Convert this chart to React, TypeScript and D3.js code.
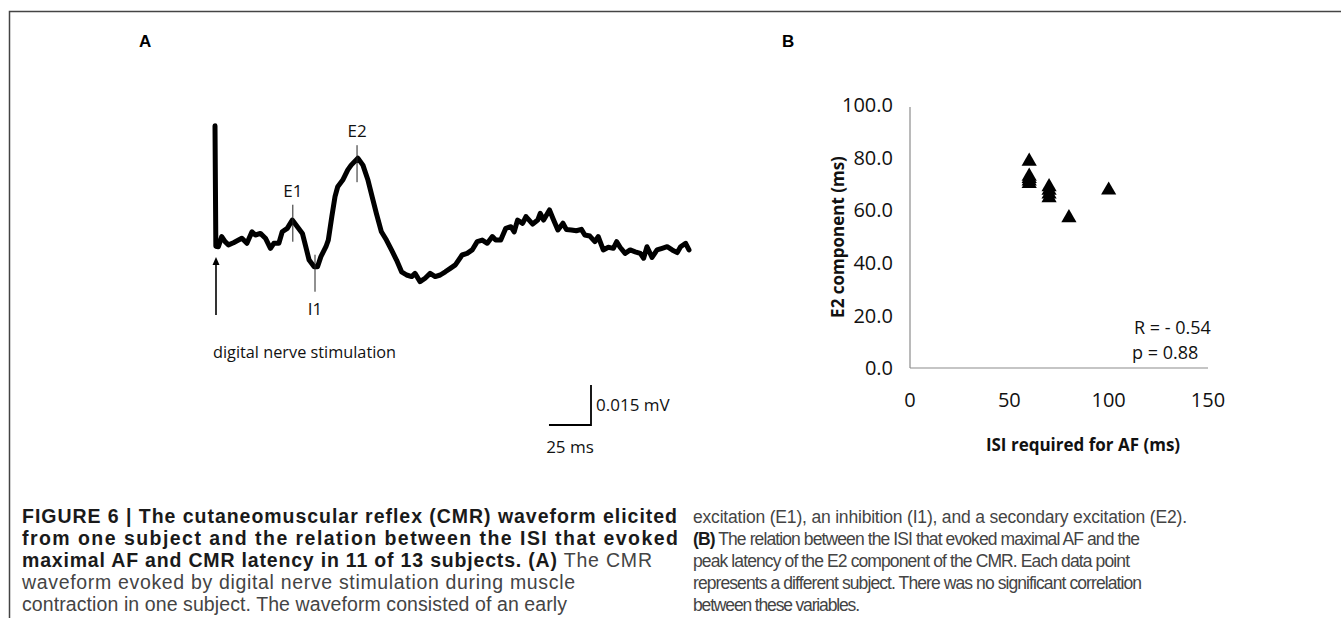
import React from 'react';
import * as d3 from 'd3';

const W = 1341;
const H = 618;

// Panel A: CMR trace, time after stimulus (ms) and amplitude (µV)
const traceTime = [
  0, 0.5, 2, 4, 6, 8, 11, 14, 16, 19, 22, 24, 27, 30, 33, 35, 38, 40, 43, 46,
  49, 52, 54, 56, 59, 61, 63, 66, 67.4, 69.5, 71.4, 73, 76, 79, 81, 85, 88, 91, 94, 96,
  99, 102, 105, 108, 111, 114, 117, 119, 122, 125, 128, 131, 134, 137, 140, 143, 147, 150, 153, 156,
  159, 162, 165, 167, 170, 173, 176, 178, 180, 183, 185, 189, 192, 193.5, 195.5, 199, 201, 204, 207, 209,
  212, 215, 218, 220, 223, 226, 228, 231, 234, 237, 239, 241, 244, 247, 250, 253, 255, 257, 260, 263,
  266, 269, 272, 275, 277, 280, 282,
];
const traceAmp = [
  44, -1.2, -1.4, 2.4, 0.5, -0.7, 0.1, 1.1, 1.8, -0.1, 4.2, 3.0, 3.6, 1.8, -2.0, -0.1, -0.1, 4.2, 5.5, 8.6,
  6.1, 3.6, -1.4, -6.4, -8.9, -8.9, -5.1, -1.4, 1.1, 9.9, 17.4, 21.1, 23.6, 27.4, 29.2, 31.8, 29.2, 23.6, 16.1, 11.1,
  4.2, 1.1, -2.6, -6.4, -10.8, -12.0, -12.6, -11.4, -14.5, -13.2, -11.4, -12.6, -12.0, -10.8, -9.5, -8.2, -4.5, -3.9, -2.6, 0.5,
  1.1, -0.1, 2.4, 1.1, 1.1, 5.5, 6.1, 4.2, 8.6, 7.4, 9.9, 7.1, 8.6, 11.1, 8.6, 12.4, 9.3, 4.9, 7.4, 5.1,
  4.9, 4.6, 5.1, 3.0, 2.6, 0.5, 2.4, -2.6, -1.6, -2.0, 0.5, -1.6, -3.9, -2.6, -3.3, -3.9, -5.7, -1.4, -5.4, -2.6,
  -2.0, -1.4, -2.6, -3.6, -1.4, -0.1, -2.6,
];

// component markers on the trace
const markLabels = ['E1', 'I1', 'E2'];
const markTimes = [46.3, 59.5, 84.5];
const markAbove = [true, false, true];

// Panel B: ISI required for AF vs E2 latency
const isiValues = [60, 60, 60, 60, 60, 70, 70, 70, 70, 80, 100];
const e2Values = [78.6, 72.9, 72.0, 71.1, 70.1, 68.9, 67.5, 66.1, 64.7, 57.1, 67.6];
const yTicksB = [0, 20, 40, 60, 80, 100];
const xTicksB = [0, 50, 100, 150];

type Seg = { t: string; b?: boolean };
const captionLeft: Seg[][] = [
  [{ t: 'FIGURE 6 | The cutaneomuscular reflex (CMR) waveform elicited', b: true }],
  [{ t: 'from one subject and the relation between the ISI that evoked', b: true }],
  [{ t: 'maximal AF and CMR latency in 11 of 13 subjects. (A)', b: true }, { t: ' The CMR' }],
  [{ t: 'waveform evoked by digital nerve stimulation during muscle' }],
  [{ t: 'contraction in one subject. The waveform consisted of an early' }],
];
const captionLeftWidth = [655, 656, 630, 553, 545];
const captionRight: Seg[][] = [
  [{ t: 'excitation (E1), an inhibition (I1), and a secondary excitation (E2).' }],
  [{ t: '(B)', b: true }, { t: ' The relation between the ISI that evoked maximal AF and the' }],
  [{ t: 'peak latency of the E2 component of the CMR. Each data point' }],
  [{ t: 'represents a different subject. There was no significant correlation' }],
  [{ t: 'between these variables.' }],
];
const captionRightWidth = [494, 447, 437, 449, 167];

const calib = '"Open Sans", "Noto Sans", sans-serif';
const capWide = '"Liberation Sans", Arial, sans-serif';
const capNarrow = '"Liberation Sans Narrow", "Liberation Sans", sans-serif';

export default function App() {
  // panel A scales
  const xA = d3.scaleLinear().domain([0, 282]).range([215, 689]);
  const yA = d3.scaleLinear().domain([0, 15]).range([243, 203]);
  const pts = traceTime.map((t, i) => [t, traceAmp[i]] as [number, number]);
  const tracePath = d3
    .line<[number, number]>()
    .x((d) => xA(d[0]))
    .y((d) => yA(d[1]))(pts) as string;

  const ampAt = (t: number) => {
    const i = d3.bisectLeft(traceTime, t);
    return traceAmp[Math.min(i, traceAmp.length - 1)];
  };

  // panel B scales
  const xB = d3.scaleLinear().domain([0, 150]).range([910, 1208]);
  const yB = d3.scaleLinear().domain([0, 100]).range([368, 105]);
  const tri = d3.symbol().type(d3.symbolTriangle).size(100)() as string;
  const fmt = d3.format('.1f');

  const sbX = 591;
  const sbY = 425;
  const sbW = xA(25) - xA(0);
  const sbH = yA(0) - yA(15);

  const capLine = (
    segs: Seg[],
    x: number,
    y: number,
    w: number,
    family: string,
    size: number,
    key: string,
  ) => (
    <text key={key} x={x} y={y} fontSize={size} textLength={w} lengthAdjust="spacing">
      {segs.map((s, j) => (
        <tspan
          key={j}
          fontFamily={s.b ? capWide : family}
          fontWeight={s.b ? 700 : 400}
          fill={s.b ? '#1a1a1a' : '#444'}
        >
          {s.t}
        </tspan>
      ))}
    </text>
  );

  return (
    <svg
      width={W}
      height={H}
      style={{ position: 'absolute', left: 0, top: 0, background: '#fff' }}
    >
      {/* frame */}
      <path d={`M9.5,${H} V11.5 H${W}`} fill="none" stroke="#444" strokeWidth={1.5} />

      {/* panel labels */}
      <text x={139} y={47} fontFamily="Arial, Liberation Sans, sans-serif" fontWeight={700} fontSize={17}>
        A
      </text>
      <text x={782} y={47} fontFamily="Arial, Liberation Sans, sans-serif" fontWeight={700} fontSize={17}>
        B
      </text>

      {/* Panel A */}
      <path d={tracePath} fill="none" stroke="#000" strokeWidth={5} strokeLinejoin="round" strokeLinecap="round" />
      {markLabels.map((lab, i) => {
        const x = xA(markTimes[i]);
        const y = yA(ampAt(markTimes[i]));
        const above = markAbove[i];
        const y1 = above ? y - (i === 2 ? 13 : 22) : y - 12;
        const y2 = above ? y + (i === 2 ? 24 : 15) : y + 25;
        return (
          <g key={lab}>
            <line x1={x} x2={x} y1={y1} y2={y2} stroke="#222" strokeWidth={1} />
            <text
              x={x}
              y={above ? y1 - 8 : y2 + 23}
              textAnchor="middle"
              fontFamily={calib}
              fontSize={17}
              fill="#111"
            >
              {lab}
            </text>
          </g>
        );
      })}

      {/* stimulus arrow */}
      <line x1={xA(0) + 1} x2={xA(0) + 1} y1={262} y2={315} stroke="#000" strokeWidth={1.6} />
      <path d={`M${xA(0) + 1},257 l-3.5,8 h7 z`} fill="#000" />
      <text x={213} y={358} fontFamily={calib} fontSize={16.3} fill="#111">
        digital nerve stimulation
      </text>

      {/* scale bar */}
      <path d={`M${sbX - sbW},${sbY} H${sbX} V${sbY - sbH}`} fill="none" stroke="#000" strokeWidth={1.8} />
      <text x={sbX + 5} y={sbY - 14} fontFamily={calib} fontSize={17} fill="#111">
        0.015 mV
      </text>
      <text x={sbX - sbW / 2} y={sbY + 28} textAnchor="middle" fontFamily={calib} fontSize={17} fill="#111">
        25 ms
      </text>

      {/* Panel B axes */}
      <line x1={xB(0)} x2={xB(0)} y1={yB(100) + 2} y2={yB(0)} stroke="#8c8c8c" strokeWidth={1.2} />
      <line x1={xB(0)} x2={xB(150)} y1={yB(0)} y2={yB(0)} stroke="#8c8c8c" strokeWidth={1.2} />
      {yTicksB.map((v) => (
        <text
          key={v}
          x={893}
          y={yB(v)}
          dy="0.36em"
          textAnchor="end"
          fontFamily={calib}
          fontSize={20}
          fill="#111"
        >
          {fmt(v)}
        </text>
      ))}
      {xTicksB.map((v) => (
        <text
          key={v}
          x={xB(v)}
          y={400}
          dy="0.36em"
          textAnchor="middle"
          fontFamily={calib}
          fontSize={20}
          fill="#111"
        >
          {v}
        </text>
      ))}
      <text
        x={1083}
        y={445}
        dy="0.36em"
        textAnchor="middle"
        fontFamily={calib}
        fontWeight={700}
        fontSize={17}
        fill="#111"
      >
        ISI required for AF (ms)
      </text>
      <text
        transform={`translate(838,237) rotate(-90)`}
        dy="0.36em"
        textAnchor="middle"
        fontFamily={calib}
        fontWeight={700}
        fontSize={17}
        fill="#111"
      >
        E2 component (ms)
      </text>
      {isiValues.map((v, i) => (
        <path key={i} d={tri} transform={`translate(${xB(v)},${yB(e2Values[i])})`} fill="#000" />
      ))}
      <text x={1134} y={328} dy="0.36em" fontFamily={calib} fontSize={18} fill="#111">
        R = - 0.54
      </text>
      <text x={1132} y={353} dy="0.36em" fontFamily={calib} fontSize={18} fill="#111">
        p = 0.88
      </text>

      {/* caption */}
      {captionLeft.map((segs, i) =>
        capLine(segs, 22, 523 + i * 22, captionLeftWidth[i], capWide, 19.5, 'l' + i),
      )}
      {captionRight.map((segs, i) =>
        capLine(segs, 693, 523 + i * 22, captionRightWidth[i], capNarrow, 17.5, 'r' + i),
      )}
    </svg>
  );
}
